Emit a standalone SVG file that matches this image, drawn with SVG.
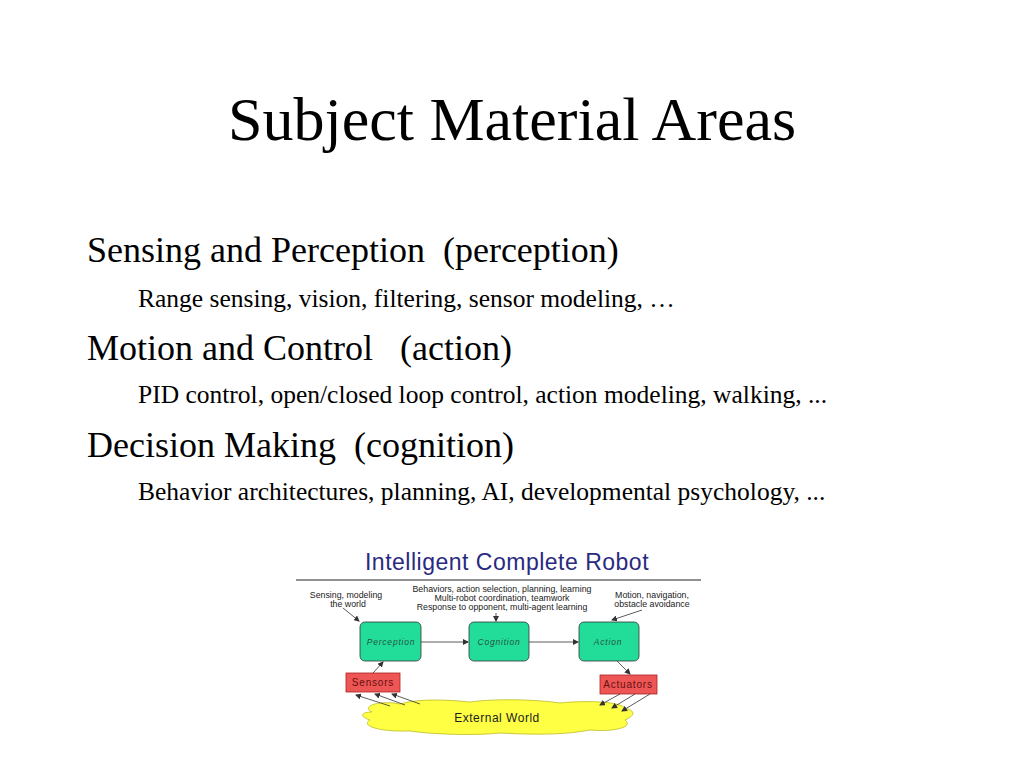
<svg xmlns="http://www.w3.org/2000/svg" width="1024" height="768" viewBox="0 0 1024 768">
<style>
.s{font-family:"Liberation Serif",serif;fill:#000;white-space:pre}
.d{font-family:"Liberation Sans",Arial,sans-serif;font-size:8.8px;fill:#222;text-anchor:middle}
.g{fill:#22dd99;stroke:#333;stroke-width:0.8}
.r{fill:#ee5555;stroke:#aa2222;stroke-width:0.8}
.gl{font-family:"Liberation Sans",Arial,sans-serif;font-size:8.5px;font-style:italic;fill:#225544;text-anchor:middle;letter-spacing:0.8px}
.rl{font-family:"Liberation Sans",Arial,sans-serif;font-size:10px;fill:#661111;text-anchor:middle;letter-spacing:0.8px}
.c line{stroke:#333;stroke-width:0.8;marker-end:url(#a)}
</style>
<defs><marker id="a" markerWidth="6" markerHeight="6" refX="5" refY="3" orient="auto" markerUnits="userSpaceOnUse"><path d="M0,0L6,3L0,6z" fill="#333"/></marker></defs>
<rect width="1024" height="768" fill="#fff"/>
<text class="s" x="512" y="140" font-size="62" text-anchor="middle">Subject Material Areas</text>
<text class="s" x="87" y="262" font-size="36" xml:space="preserve">Sensing and Perception  (perception)</text>
<text class="s" x="138" y="307" font-size="25.5">Range sensing, vision, filtering, sensor modeling, …</text>
<text class="s" x="87" y="360" font-size="36" xml:space="preserve">Motion and Control   (action)</text>
<text class="s" x="138" y="403" font-size="25.5">PID control, open/closed loop control, action modeling, walking, ...</text>
<text class="s" x="87" y="457" font-size="36" xml:space="preserve">Decision Making  (cognition)</text>
<text class="s" x="138" y="500" font-size="25.5">Behavior architectures, planning, AI, developmental psychology, ...</text>
<g id="figure">
<text x="507" y="570" font-family="Liberation Sans,Arial,sans-serif" font-size="23" fill="#2a2a80" text-anchor="middle" letter-spacing="0.5">Intelligent Complete Robot</text>
<line x1="296" y1="580" x2="701" y2="580" stroke="#222" stroke-width="1"/>
<text class="d" x="346" y="598">Sensing, modeling</text>
<text class="d" x="348" y="607">the world</text>
<text class="d" x="502" y="592">Behaviors, action selection, planning, learning</text>
<text class="d" x="502" y="601">Multi-robot coordination, teamwork</text>
<text class="d" x="502" y="610">Response to opponent, multi-agent learning</text>
<text class="d" x="652" y="598">Motion, navigation,</text>
<text class="d" x="652" y="607">obstacle avoidance</text>
</g>
<g id="perception"><rect class="g" x="360" y="622" width="61" height="39" rx="5"/><text class="gl" x="391" y="645">Perception</text></g>
<g id="cognition"><rect class="g" x="469" y="622" width="60" height="39" rx="5"/><text class="gl" x="499" y="645">Cognition</text></g>
<g id="action"><rect class="g" x="579" y="622" width="60" height="39" rx="5"/><text class="gl" x="608" y="645">Action</text></g>
<g id="sensors"><rect class="r" x="346" y="673" width="54" height="19"/><text class="rl" x="373" y="686">Sensors</text></g>
<g id="actuators"><rect class="r" x="600" y="675" width="57" height="19"/><text class="rl" x="628" y="688">Actuators</text></g>
<g id="world">
<path d="M372,712 C360,706 380,700 400,704 C420,698 450,700 470,702 C500,698 540,700 560,703 C590,700 620,702 625,708 C640,712 630,718 625,720 C635,728 610,732 590,730 C560,736 520,734 500,733 C470,736 430,734 410,731 C380,732 360,726 370,720 C358,716 362,712 372,712 Z" fill="#ffff44" stroke="#bbbb22" stroke-width="0.8"/>
<text x="497" y="722" font-family="Liberation Sans,Arial,sans-serif" font-size="12" fill="#222" text-anchor="middle" letter-spacing="0.5">External World</text>
</g>
<g class="c" id="connectors">
<line x1="343" y1="608" x2="359" y2="621"/>
<line x1="496" y1="613" x2="496" y2="621"/>
<line x1="642" y1="610" x2="612" y2="620"/>
<line x1="421" y1="642" x2="468" y2="642"/>
<line x1="529" y1="642" x2="578" y2="642"/>
<line x1="373" y1="673" x2="383" y2="662"/>
<line x1="617" y1="661" x2="630" y2="674"/>
<line x1="390" y1="706" x2="356" y2="695"/>
<line x1="405" y1="705" x2="375" y2="694"/>
<line x1="420" y1="704" x2="392" y2="694"/>
<line x1="620" y1="694" x2="600" y2="705"/>
<line x1="635" y1="694" x2="612" y2="708"/>
<line x1="650" y1="694" x2="622" y2="711"/>
</g>
</svg>
